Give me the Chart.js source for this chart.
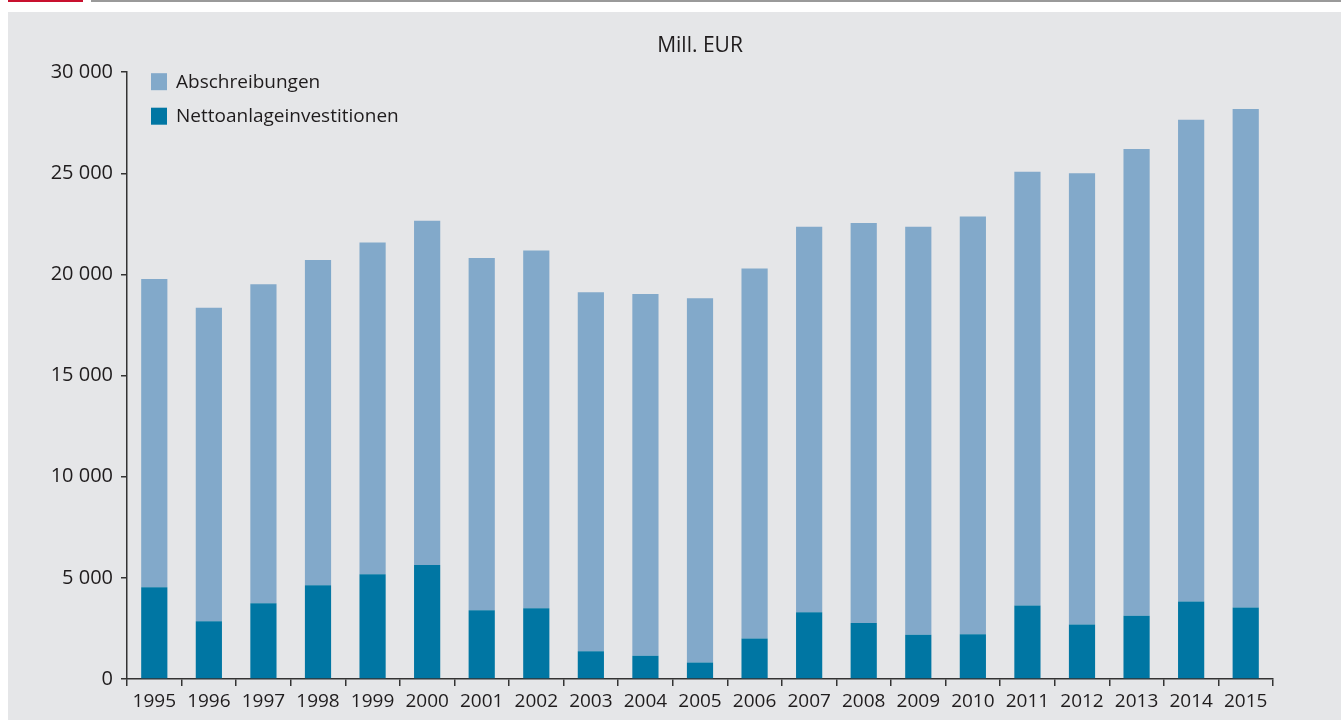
<!DOCTYPE html>
<html>
<head>
<meta charset="utf-8">
<script src="https://cdn.jsdelivr.net/npm/chart.js@4"></script>
<style>
  html, body { margin: 0; padding: 0; background: #ffffff; }
  body { width: 1341px; height: 720px; position: relative; overflow: hidden; }
  #redLine { position: absolute; left: 8px; top: 0; width: 75px; height: 2px; background: #c8102e; }
  #greyLine { position: absolute; left: 91px; top: 0; right: 0; height: 2px; background: #9a9a9a; }
  #panel { position: absolute; left: 8px; top: 12px; width: 1333px; height: 708px; background: #e5e6e8; }
</style>
</head>
<body>
<div id="redLine"></div>
<div id="greyLine"></div>
<div id="panel"><canvas id="chart" width="1333" height="708"></canvas></div>
<script>
// Daten (Mill. EUR)
const years = ['1995', '1996', '1997', '1998', '1999', '2000', '2001', '2002', '2003', '2004', '2005',
    '2006', '2007', '2008', '2009', '2010', '2011', '2012', '2013', '2014', '2015'];
const nettoanlageinvestitionen = [4530, 2850, 3740, 4630, 5180, 5640, 3400, 3500, 1370, 1150, 810,
    2000, 3300, 2770, 2190, 2210, 3630, 2700, 3130, 3830, 3530];
const abschreibungen = [15240, 15500, 15780, 16080, 16400, 17010, 17410, 17690, 17750, 17890, 18020,
    18300, 19060, 19770, 20170, 20660, 21450, 22300, 23070, 23820, 24650];
const yTicks = [0, 5000, 10000, 15000, 20000, 25000, 30000];

const colorLight = '#82a9ca';
const colorDark = '#0076a3';
const textColor = '#1f1c1d';
const fontFamily = '"Open Sans", "Noto Sans", sans-serif';

function formatNumber(v) {
    return String(v).replace(/\B(?=(\d{3})+(?!\d))/g, ' ');
}

// Legende innerhalb der Zeichenfläche, oben links
const insideLegend = {
    id: 'insideLegend',
    afterDatasetsDraw(chart) {
        const ctx = chart.ctx;
        const area = chart.chartArea;
        const items = [chart.data.datasets[1], chart.data.datasets[0]];
        ctx.save();
        ctx.font = '19px ' + fontFamily;
        ctx.textBaseline = 'middle';
        ctx.textAlign = 'left';
        items.forEach((ds, i) => {
            const y = area.top + 1 + i * 34.5;
            ctx.fillStyle = ds.backgroundColor;
            ctx.fillRect(area.left + 24, y, 16, 17);
            ctx.fillStyle = textColor;
            ctx.fillText(ds.label, area.left + 49, y + 9);
        });
        ctx.restore();
    }
};

const ctx = document.getElementById('chart').getContext('2d');
const chart = new Chart(ctx, {
    type: 'bar',
    data: {
        labels: years,
        datasets: [
            { label: 'Nettoanlageinvestitionen', data: nettoanlageinvestitionen, backgroundColor: colorDark, borderWidth: 0 },
            { label: 'Abschreibungen', data: abschreibungen, backgroundColor: colorLight, borderWidth: 0 }
        ]
    },
    options: {
        responsive: false,
        animation: false,
        layout: { padding: { left: 0, right: 68, top: 0, bottom: 0 } },
        datasets: { bar: { barPercentage: 0.48, categoryPercentage: 1 } },
        plugins: {
            legend: { display: false },
            tooltip: { enabled: false },
            title: {
                display: true,
                text: 'Mill. EUR',
                fullSize: false,
                color: textColor,
                font: { family: fontFamily, size: 21, weight: 'normal' },
                padding: { top: 21, bottom: 14 }
            }
        },
        scales: {
            x: {
                stacked: true,
                grid: { display: true, drawOnChartArea: false, drawTicks: true, offset: true, tickLength: 7, tickColor: '#333333', lineWidth: 1.5 },
                border: { display: true, color: '#333333', width: 1.5 },
                ticks: { color: textColor, font: { family: fontFamily, size: 19 }, padding: 4, maxRotation: 0, autoSkip: false },
                afterFit(scale) { scale.height = 41; }
            },
            y: {
                stacked: true,
                min: 0,
                max: 30000,
                afterBuildTicks(scale) { scale.ticks = yTicks.map(v => ({ value: v })); },
                grid: { display: true, drawOnChartArea: false, drawTicks: true, tickLength: 6, tickColor: '#333333', lineWidth: 1.5 },
                border: { display: true, color: '#333333', width: 1.5 },
                ticks: { color: textColor, font: { family: fontFamily, size: 20 }, padding: 8, callback: v => formatNumber(v) },
                afterFit(scale) { scale.width = 119; }
            }
        }
    },
    plugins: [insideLegend]
});
</script>
</body>
</html>
